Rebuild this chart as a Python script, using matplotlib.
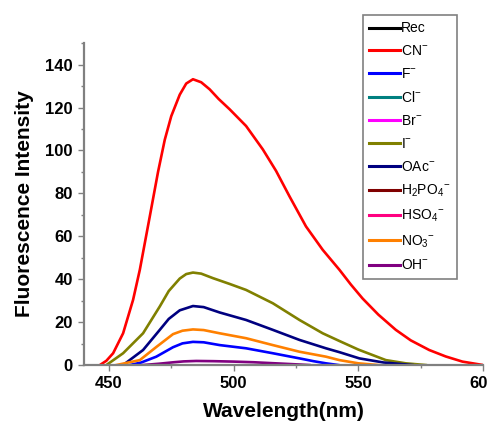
import matplotlib.pyplot as plt
import numpy as np

plt.rcParams['font.family'] = ['Liberation Sans', 'DejaVu Sans']
plt.rcParams['mathtext.fontset'] = 'custom'
plt.rcParams['mathtext.rm'] = 'Liberation Sans'
plt.rcParams['mathtext.it'] = 'Liberation Sans:italic'
plt.rcParams['mathtext.bf'] = 'Liberation Sans:bold'

# series (wavelength nm, intensity)
labels = ['Rec', r'CN$^{-}$', r'F$^{-}$', r'Cl$^{-}$', r'Br$^{-}$', r'I$^{-}$',
          r'OAc$^{-}$', r'H$_{2}$PO$_{4}$$^{-}$', r'HSO$_{4}$$^{-}$',
          r'NO$_{3}$$^{-}$', r'OH$^{-}$']
colors = ['#000000', '#ff0000', '#0000ff', '#008080', '#ff00ff', '#808000',
          '#000080', '#800000', '#ff0080', '#ff8000', '#800080']

flat_x = [450, 600]
flat_y = [0, 0]

cn_x = [446.4, 449, 451.7, 455.7, 459.7, 462.4, 466.4, 469.7, 472.4, 475,
        478.4, 481, 483.7, 487, 490.4, 494, 498.4, 505, 511.7, 517, 522.4,
        529, 535.7, 542.4, 547, 551.7, 558, 565, 571, 578.4, 585, 591.7, 600]
cn_y = [0, 2, 5.5, 14.8, 30.4, 44.4, 69.3, 90, 105, 116,
        126, 131.2, 133.2, 131.8, 128.5, 124, 119.2, 111.4, 100.5, 90.5, 78.6,
        64.6, 53.7, 44.4, 37.5, 31, 23.5, 16.4, 11.5, 7, 4, 1.6, 0]

f_x = [458.4, 463, 469, 475.7, 479.5, 483.7, 488, 494.4, 505, 515.7, 526.4,
       532, 537, 542]
f_y = [0, 1.2, 3.9, 8.3, 10.1, 10.8, 10.6, 9.3, 7.8, 5.5, 3.1,
       1.8, 0.8, 0]

i_x = [449, 455.7, 463.7, 470.4, 474, 478.4, 481, 483.7, 487, 491.7, 498.4,
       505, 515.7, 526.4, 535.7, 542.4, 550, 561, 569, 577]
i_y = [0, 5.5, 14.8, 27.3, 34.5, 40.3, 42.4, 43.1, 42.6, 40.5, 37.8,
       35, 28.8, 21, 14.8, 11.2, 7.2, 2.3, 0.8, 0]

oac_x = [455.7, 463.7, 470.4, 474, 478.4, 483.7, 488, 494.4, 505, 515.7,
         526.4, 537, 542.4, 550.4, 560, 571.7]
oac_y = [0, 7, 16.4, 21.5, 25.5, 27.5, 27.0, 24.5, 21, 16.4,
         11.7, 7.8, 6.0, 3.1, 1.2, 0]

no3_x = [453, 462.4, 469, 475.7, 479.5, 483.7, 488, 494.4, 505, 515.7, 526.4,
         537, 542.4, 550, 558]
no3_y = [0, 2.3, 8.4, 14.4, 16.0, 16.6, 16.3, 14.8, 12.5, 9.3, 6.2,
         3.9, 2.3, 0.8, 0]

oh_x = [463.7, 470, 476, 480, 485, 492, 500, 508, 515, 522, 530.4]
oh_y = [0, 0.6, 1.3, 1.7, 1.9, 1.8, 1.6, 1.3, 0.9, 0.5, 0]

series = [(flat_x, flat_y), (cn_x, cn_y), (f_x, f_y), (flat_x, flat_y),
          (flat_x, flat_y), (i_x, i_y), (oac_x, oac_y), (flat_x, flat_y),
          (flat_x, flat_y), (no3_x, no3_y), (oh_x, oh_y)]

fig = plt.figure(figsize=(4.88, 4.32), dpi=100)
ax = fig.add_axes([0.172, 0.155, 0.818, 0.745])

for (x, y), lab, c in zip(series, labels, colors):
    z = 1 if x is flat_x else 2
    ax.plot(x, y, color=c, lw=1.9, label=lab, zorder=z,
            solid_joinstyle='round')

ax.set_xlim(440, 600)
ax.set_ylim(0, 150)
ax.set_xticks([450, 500, 550, 600])
ax.set_xticks([475, 525, 575], minor=True)
ax.set_yticks(np.arange(0, 141, 20))
ax.set_yticks(np.arange(10, 151, 20), minor=True)

for s in ['top', 'right']:
    ax.spines[s].set_visible(False)
for s in ['left', 'bottom']:
    ax.spines[s].set_color('#808080')
    ax.spines[s].set_linewidth(1.6)

ax.tick_params(which='major', length=4, width=1, color='#808080',
               labelsize=12, pad=4)
ax.tick_params(which='minor', length=2.5, width=1, color='#808080')
for t in ax.get_xticklabels() + ax.get_yticklabels():
    t.set_fontweight('bold')

ax.set_xlabel('Wavelength(nm)', fontsize=15, fontweight='bold', labelpad=8)
ax.set_ylabel('Fluorescence Intensity', fontsize=15, fontweight='bold', labelpad=8)

leg = ax.legend(loc='upper left', bbox_to_anchor=(0.744, 0.965),
                bbox_transform=fig.transFigure, borderaxespad=0,
                fontsize=10, handlelength=2.2, handletextpad=0.1,
                labelspacing=0.64, borderpad=0.45, fancybox=False,
                framealpha=1, edgecolor='#808080')
leg.get_frame().set_linewidth(1.2)
for line in leg.get_lines():
    line.set_linewidth(2.2)

fig.savefig('out.png', dpi=100)
